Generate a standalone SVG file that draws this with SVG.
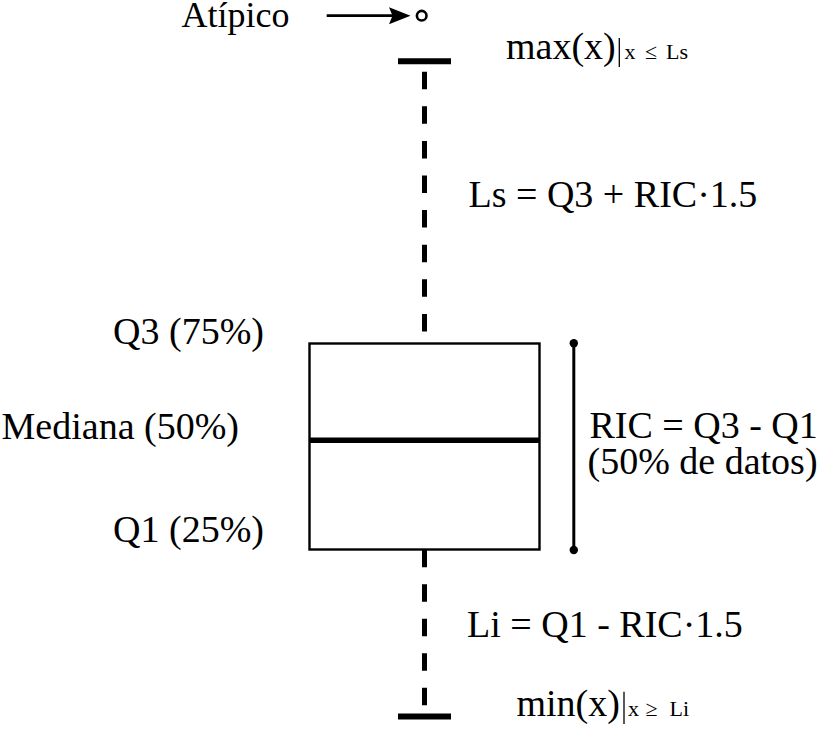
<svg xmlns="http://www.w3.org/2000/svg" width="833" height="745" viewBox="0 0 833 745">
<style>
  text { font-family: "Liberation Serif", "Times New Roman", serif; fill: #000; }
  .lbl { font-size: 38px; }
  .sub { font-size: 22px; }
  .dash { stroke: #000; stroke-width: 5; fill: none; }
  .cap { stroke: #000; stroke-width: 6; fill: none; }
</style>
<rect width="833" height="745" fill="#fff"/>

<g id="outlier">
  <text x="181.5" y="26.5" style="font-size:36px">Atípico</text>
  <circle cx="421.7" cy="15.7" r="4.8" fill="#fff" stroke="#000" stroke-width="2.6"/>
</g>

<g id="connectors">
  <line x1="326.7" y1="15.7" x2="394" y2="15.7" stroke="#000" stroke-width="2.8"/>
  <polygon points="389,7.2 410.5,15.7 389,24.2 392.5,15.7" fill="#000"/>
  <line class="dash" x1="424.5" y1="71.7" x2="424.5" y2="331.5" stroke-dasharray="17.5 17.1"/>
  <line class="dash" x1="424.5" y1="549.8" x2="424.5" y2="705.3" stroke-dasharray="17.5 17"/>
  <line x1="573.8" y1="343.3" x2="573.8" y2="550" stroke="#000" stroke-width="3"/>
  <circle cx="573.8" cy="343.3" r="4.2" fill="#000"/>
  <circle cx="573.8" cy="550" r="4.2" fill="#000"/>
</g>

<g id="max-cap">
  <line class="cap" x1="398" y1="61.2" x2="451" y2="61.2"/>
  <text class="lbl" x="506" y="58.5">max(x)</text>
  <line x1="619.3" y1="38" x2="619.3" y2="67" stroke="#000" stroke-width="1.3"/>
  <text class="sub" x="624.5" y="58.5">x</text>
  <text class="sub" x="645" y="58.5">≤</text>
  <text class="sub" x="666" y="58.5">Ls</text>
</g>

<g id="upper-limit">
  <text class="lbl" x="468.5" y="207.3">Ls = Q3 + RIC·1.5</text>
</g>

<g id="box">
  <rect x="309.5" y="343.5" width="230" height="206" fill="#fff" stroke="#000" stroke-width="2.4"/>
  <line x1="309.5" y1="440.3" x2="539.5" y2="440.3" stroke="#000" stroke-width="5.5"/>
</g>

<g id="q3-label">
  <text class="lbl" x="264" y="344" text-anchor="end">Q3 (75%)</text>
</g>
<g id="median-label">
  <text class="lbl" x="239" y="439" text-anchor="end">Mediana (50%)</text>
</g>
<g id="q1-label">
  <text class="lbl" x="264" y="541.5" text-anchor="end">Q1 (25%)</text>
</g>

<g id="ric-label">
  <text class="lbl" x="589.5" y="437.7">RIC = Q3 - Q1</text>
  <text class="lbl" x="587.5" y="474">(50% de datos)</text>
</g>

<g id="lower-limit">
  <text class="lbl" x="467" y="636.7">Li = Q1 - RIC·1.5</text>
</g>

<g id="min-cap">
  <line class="cap" x1="398" y1="716.5" x2="451" y2="716.5"/>
  <text class="lbl" x="516.5" y="715.7">min(x)</text>
  <line x1="624" y1="691.7" x2="624" y2="724" stroke="#000" stroke-width="1.3"/>
  <text class="sub" x="628" y="715.7">x</text>
  <text class="sub" x="645.5" y="715.7">≥</text>
  <text class="sub" x="669.5" y="715.7">Li</text>
</g>
</svg>
